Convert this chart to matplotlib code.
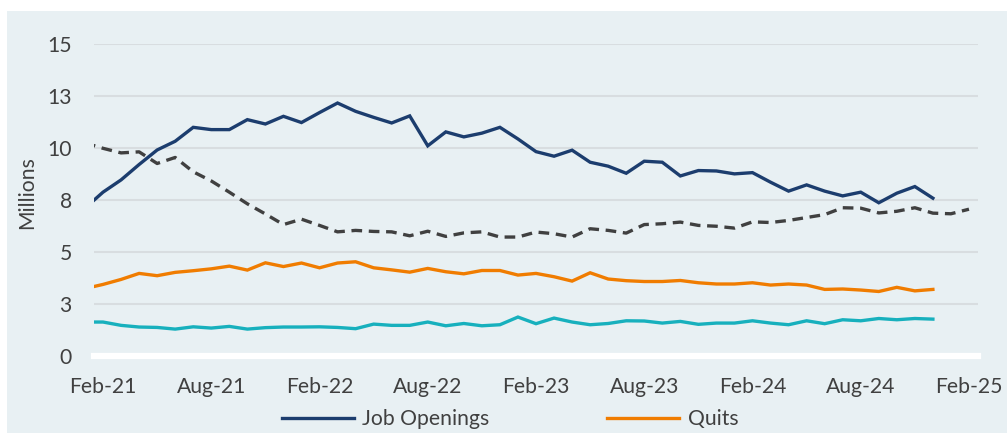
import matplotlib
matplotlib.use("Agg")
import matplotlib.pyplot as plt
from matplotlib.patches import Rectangle

plt.rcParams['font.family'] = ['Lato', 'DejaVu Sans']

# months counted from Feb-21 (= 0); Jan-21 (= -1) sits just left of the axis and is clipped
months = list(range(-1, 49))

job_openings = [7.10, 7.87, 8.46, 9.20, 9.90, 10.32, 10.99, 10.88, 10.88, 11.36, 11.15,
                11.52, 11.22, 11.70, 12.16, 11.76, 11.47, 11.20, 11.54, 10.10, 10.77,
                10.53, 10.71, 10.99, 10.43, 9.82, 9.60, 9.89, 9.31, 9.12, 8.78,
                9.36, 9.31, 8.65, 8.91, 8.89, 8.75, 8.81, 8.35, 7.92, 8.22,
                7.92, 7.69, 7.87, 7.36, 7.82, 8.14, 7.58]
quits = [3.23, 3.43, 3.67, 3.96, 3.85, 4.01, 4.09, 4.18, 4.31, 4.12, 4.47,
         4.29, 4.46, 4.23, 4.46, 4.52, 4.23, 4.13, 4.02, 4.20, 4.04,
         3.94, 4.10, 4.10, 3.88, 3.96, 3.80, 3.59, 3.99, 3.69, 3.61,
         3.57, 3.57, 3.62, 3.51, 3.45, 3.45, 3.51, 3.40, 3.45, 3.40,
         3.19, 3.21, 3.16, 3.09, 3.29, 3.12, 3.19]
layoffs = [1.62, 1.62, 1.46, 1.38, 1.36, 1.28, 1.39, 1.33, 1.41, 1.28, 1.35,
           1.38, 1.38, 1.39, 1.36, 1.30, 1.52, 1.46, 1.46, 1.62, 1.44,
           1.55, 1.44, 1.49, 1.86, 1.54, 1.81, 1.62, 1.49, 1.55, 1.68,
           1.67, 1.57, 1.65, 1.51, 1.57, 1.57, 1.68, 1.57, 1.49, 1.68,
           1.54, 1.73, 1.68, 1.79, 1.73, 1.79, 1.76]
unemployed = [10.24, 9.98, 9.76, 9.81, 9.25, 9.54, 8.85, 8.41, 7.87, 7.31, 6.82,
              6.31, 6.57, 6.27, 5.96, 6.03, 5.98, 5.96, 5.77, 5.99, 5.74,
              5.91, 5.96, 5.71, 5.71, 5.95, 5.87, 5.71, 6.11, 6.03, 5.90,
              6.31, 6.35, 6.43, 6.27, 6.23, 6.14, 6.44, 6.41, 6.51, 6.65,
              6.79, 7.12, 7.10, 6.87, 6.95, 7.12, 6.86, 6.83, 7.05]

x_ticks = [0, 6, 12, 18, 24, 30, 36, 42, 48]
x_labels = ["Feb-21", "Aug-21", "Feb-22", "Aug-22", "Feb-23", "Aug-23", "Feb-24", "Aug-24", "Feb-25"]
y_ticks = [0, 2.5, 5, 7.5, 10, 12.5, 15]
y_labels = ["0", "3", "5", "8", "10", "13", "15"]

bg = "#e8f0f3"
text_col = "#404040"
fs = 15.2

fig = plt.figure(figsize=(10.07, 4.33), dpi=100)
fig.patch.set_facecolor("white")
fig.patches.append(Rectangle((7 / 1007, 0), 1, 1 - 11 / 433, transform=fig.transFigure,
                             facecolor=bg, edgecolor="none", zorder=-10))

ax = fig.add_axes([94 / 1007, (433 - 355.7) / 433, (978 - 94) / 1007, (355.7 - 44) / 433])
ax.set_facecolor(bg)

ax.plot(months[:len(job_openings)], job_openings, color="#1c3d6e", lw=2.4,
        label="Job Openings", solid_joinstyle="miter", zorder=4)
ax.plot(months[:len(quits)], quits, color="#f07c00", lw=2.4, label="Quits",
        solid_joinstyle="miter", zorder=4)
ax.plot(months[:len(layoffs)], layoffs, color="#17b0bd", lw=2.4,
        solid_joinstyle="miter", zorder=4)
ax.plot(months[:len(unemployed)], unemployed, color="#404040", lw=2.4,
        linestyle=(0, (3.2, 2.0)), zorder=4)

ax.set_xlim(-0.5, 48.5)
ax.set_ylim(0, 15)
ax.set_xticks(x_ticks)
ax.set_xticklabels(x_labels)
ax.set_yticks(y_ticks)
ax.set_yticklabels(y_labels)
ax.tick_params(axis="both", length=0, labelsize=fs, labelcolor=text_col)
ax.tick_params(axis="y", pad=16)
ax.tick_params(axis="x", pad=15)

ax.grid(axis="y", color="#d8dde0", lw=1.5, zorder=1)
ax.axhline(0, color="white", lw=4.5, clip_on=False, zorder=2)
for s in ax.spines.values():
    s.set_visible(False)

fig.text(27 / 1007, 1 - 193 / 433, "Millions", rotation=90, ha="center", va="center",
         fontsize=fs, color=text_col)

fig.legend(loc="center", bbox_to_anchor=(510 / 1007, 14 / 433), ncol=2, frameon=False,
           fontsize=fs, labelcolor=text_col, handlelength=3.4, columnspacing=5.6,
           handletextpad=0.4)

fig.savefig("out.png", dpi=100, facecolor=fig.get_facecolor())
